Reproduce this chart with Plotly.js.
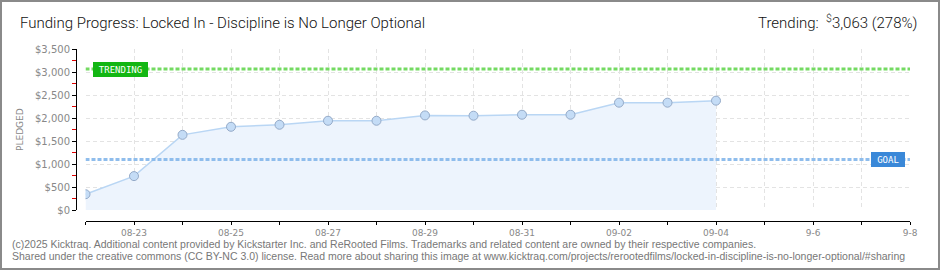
<!DOCTYPE html>
<html>
<head>
<meta charset="utf-8">
<script src="https://cdn.plot.ly/plotly-3.0.1.min.js"></script>
<style>
  html, body { margin: 0; padding: 0; background: #fff; }
  #wrap { position: relative; width: 940px; height: 270px; }
  #chart { width: 940px; height: 270px; }
  #frame { position: absolute; left: 0; top: 0; width: 940px; height: 270px; box-sizing: border-box; border: 2px solid #8a8a8a; pointer-events: none; }
</style>
</head>
<body>
<div id="wrap"><div id="chart"></div><div id="frame"></div></div>
<script>
// ---- data ----
const dates = ['2025-08-22','2025-08-23','2025-08-24','2025-08-25','2025-08-26','2025-08-27','2025-08-28',
               '2025-08-29','2025-08-30','2025-08-31','2025-09-01','2025-09-02','2025-09-03','2025-09-04'];
const pledged = [343, 737, 1634, 1809, 1853, 1940, 1940, 2056, 2050, 2071, 2071, 2333, 2333, 2377];
const goal = 1100;
const trending = 3063;
const rangeDates = ['2025-08-22', '2025-09-08'];
const tickDates = ['2025-08-23','2025-08-25','2025-08-27','2025-08-29','2025-08-31','2025-09-02','2025-09-04','2025-09-06','2025-09-08'];
const tickLabels = ['08-23','08-25','08-27','08-29','08-31','09-02','09-04','9-6','9-8'];
const yTicks = [0, 500, 1000, 1500, 2000, 2500, 3000, 3500];
const yLabels = ['$0','$500','$1,000','$1,500','$2,000','$2,500','$3,000','$3,500'];
const titleText = 'Funding Progress: Locked In - Discipline is No Longer Optional';
const trendText = 'Trending:&nbsp; <sup>$</sup>3,063 (278%)';
const footer1 = '(c)2025 Kicktraq. Additional content provided by Kickstarter Inc. and ReRooted Films. Trademarks and related content are owned by their respective companies.';
const footer2 = 'Shared under the creative commons (CC BY-NC 3.0) license. Read more about sharing this image at www.kicktraq.com/projects/rerootedfilms/locked-in-discipline-is-no-longer-optional/#sharing';

// ---- geometry helpers (pixels -> paper) ----
const L = 76, R = 910, T = 49, B = 221;
const px = x => (x - L) / (R - L);
const py = y => (B - y) / (B - T);
const DAY = 86400000;

const traces = [
  {
    x: dates, y: pledged, type: 'scatter', mode: 'lines+markers',
    fill: 'tozeroy', fillcolor: '#edf4fd',
    line: { color: '#b9d6f4', width: 1.5 },
    marker: { size: 9, color: '#c4dcf6', line: { color: '#94aac8', width: 1 } },
    hoverinfo: 'skip'
  },
  {
    x: rangeDates, y: [goal, goal], type: 'scatter', mode: 'lines',
    line: { color: '#8fbdec', width: 3, dash: '4px,2px' }, hoverinfo: 'skip'
  },
  {
    x: rangeDates, y: [trending, trending], type: 'scatter', mode: 'lines',
    line: { color: '#74da62', width: 3, dash: '4px,2px' }, hoverinfo: 'skip'
  }
];

const headFont = 'Roboto, Liberation Sans, sans-serif';

const layout = {
  width: 940, height: 270,
  margin: { l: L, r: 940 - R, t: T, b: 270 - B, pad: 0 },
  paper_bgcolor: '#fff', plot_bgcolor: '#fff',
  showlegend: false,
  title: {
    text: titleText, x: 20 / 940, xanchor: 'left', xref: 'container',
    y: 1 - 23 / 270, yanchor: 'middle', yref: 'container',
    font: { family: headFont, size: 15, color: '#111', weight: 300 }
  },
  xaxis: {
    type: 'date', range: rangeDates, domain: [px(85.5), 1],
    anchor: 'free', position: 0,
    tickmode: 'array', tickvals: tickDates, ticktext: tickLabels,
    ticks: 'outside', ticklen: 3, tickcolor: '#000', tickwidth: 1,
    minor: { dtick: DAY, tick0: '2025-08-22', ticks: 'outside', ticklen: 3, tickcolor: '#000',
             showgrid: true, gridcolor: '#e3e3e3', griddash: '4px,3px', gridwidth: 1 },
    showline: true, linecolor: '#000', linewidth: 1,
    showgrid: true, gridcolor: '#e3e3e3', griddash: '4px,3px', gridwidth: 1,
    zeroline: false, tickfont: { family: 'DejaVu Sans', size: 9, color: '#888' }, fixedrange: true
  },
  yaxis: {
    range: [0, 3500], domain: [py(210), 1],
    anchor: 'free', position: 0,
    tickmode: 'array', tickvals: yTicks, ticktext: yLabels,
    ticks: 'outside', ticklen: 4, tickcolor: '#000', tickwidth: 1,
    minor: { dtick: 250, tick0: 0, ticks: 'outside', ticklen: 4, tickcolor: '#e00000', showgrid: false },
    showline: true, linecolor: '#000', linewidth: 1,
    showgrid: true, gridcolor: '#e3e3e3', griddash: '4px,3px', gridwidth: 1,
    zeroline: false, tickfont: { family: 'DejaVu Sans', size: 10, color: '#888' }, fixedrange: true
  },
  annotations: [
    {
      text: 'TRENDING', xref: 'paper', yref: 'y', x: px(120.5), y: trending,
      xanchor: 'center', yanchor: 'middle', showarrow: false,
      bgcolor: '#13b613', bordercolor: '#13b613', borderpad: 1, width: 51, height: 11,
      font: { family: 'DejaVu Sans Mono', size: 9, color: '#fff' }
    },
    {
      text: 'GOAL', xref: 'paper', yref: 'y', x: px(888), y: goal,
      xanchor: 'center', yanchor: 'middle', showarrow: false,
      bgcolor: '#3a88d8', bordercolor: '#3a88d8', borderpad: 1, width: 30, height: 11,
      font: { family: 'DejaVu Sans Mono', size: 9, color: '#fff' }
    },
    {
      text: 'PLEDGED', xref: 'paper', yref: 'paper', x: px(20), y: py(130),
      xanchor: 'center', yanchor: 'middle', textangle: -90, showarrow: false,
      font: { family: 'DejaVu Sans', size: 9, color: '#888' }
    },
    {
      text: trendText, xref: 'paper', yref: 'paper', x: px(919), y: py(22),
      xanchor: 'right', yanchor: 'middle', showarrow: false,
      font: { family: headFont, size: 15, color: '#111', weight: 300 }
    },
    {
      text: footer1, xref: 'paper', yref: 'paper', x: px(10), y: py(244),
      xanchor: 'left', yanchor: 'middle', showarrow: false,
      font: { family: 'Liberation Sans', size: 10.5, color: '#777' }
    },
    {
      text: footer2, xref: 'paper', yref: 'paper', x: px(10), y: py(256),
      xanchor: 'left', yanchor: 'middle', showarrow: false,
      font: { family: 'Liberation Sans', size: 10.5, color: '#777' }
    }
  ]
};

Plotly.newPlot('chart', traces, layout, { staticPlot: true, displayModeBar: false });
</script>
</body>
</html>
